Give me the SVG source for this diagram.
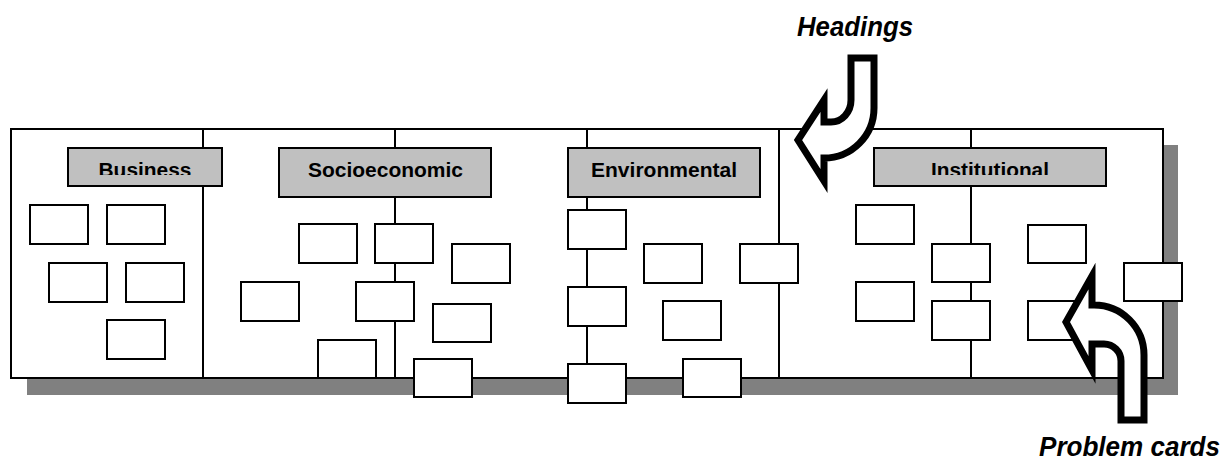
<svg xmlns="http://www.w3.org/2000/svg" width="1227" height="461" viewBox="0 0 1227 461">
<style>
.card{fill:#fff;stroke:#000;stroke-width:2}
.head{fill:#c0c0c0;stroke:#000;stroke-width:2}
.ht{font-family:"Liberation Sans",Arial,sans-serif;font-weight:bold;font-size:20px;fill:#000;text-anchor:middle}
.lbl{font-family:"Liberation Sans",Arial,sans-serif;font-weight:bold;font-style:italic;font-size:27px;fill:#000}
.div{stroke:#000;stroke-width:2}
.arrow{fill:#fff;stroke:#000;stroke-width:7;stroke-linejoin:miter;stroke-miterlimit:10}
</style>
<defs>
<clipPath id="clipBiz"><rect x="69" y="149" width="152" height="26"/></clipPath>
<clipPath id="clipInst"><rect x="875" y="148" width="230" height="27"/></clipPath>
</defs>
<rect x="0" y="0" width="1227" height="461" fill="#fff"/>
<g id="board">
<rect x="27" y="145" width="1151" height="250" fill="#808080"/>
<rect x="11" y="129" width="1152" height="249" fill="#fff" stroke="#000" stroke-width="2"/>
<line class="div" x1="203" y1="129" x2="203" y2="378"/>
<line class="div" x1="395" y1="129" x2="395" y2="378"/>
<line class="div" x1="587" y1="129" x2="587" y2="378"/>
<line class="div" x1="779" y1="129" x2="779" y2="378"/>
<line class="div" x1="971" y1="129" x2="971" y2="378"/>
</g>
<g id="head-business">
<rect class="head" x="68" y="148" width="154" height="38"/>
<text class="ht" x="145" y="177" textLength="93" lengthAdjust="spacingAndGlyphs" clip-path="url(#clipBiz)">Business</text>
</g>
<g id="head-socioeconomic">
<rect class="head" x="279" y="148" width="212" height="49"/>
<text class="ht" x="385.5" y="177" textLength="155" lengthAdjust="spacingAndGlyphs">Socioeconomic</text>
</g>
<g id="head-environmental">
<rect class="head" x="568" y="148" width="192" height="49"/>
<text class="ht" x="664" y="177" textLength="146" lengthAdjust="spacingAndGlyphs">Environmental</text>
</g>
<g id="head-institutional">
<rect class="head" x="874" y="148" width="232" height="38"/>
<text class="ht" x="990" y="177" textLength="118" lengthAdjust="spacingAndGlyphs" clip-path="url(#clipInst)">Institutional</text>
</g>
<g id="cards-business">
<rect class="card" x="30" y="205" width="58" height="39"/>
<rect class="card" x="107" y="205" width="58" height="39"/>
<rect class="card" x="49" y="263" width="58" height="39"/>
<rect class="card" x="126" y="263" width="58" height="39"/>
<rect class="card" x="107" y="320" width="58" height="39"/>
</g>
<g id="cards-socioeconomic">
<rect class="card" x="299" y="224" width="58" height="39"/>
<rect class="card" x="375" y="224" width="58" height="39"/>
<rect class="card" x="241" y="282" width="58" height="39"/>
<rect class="card" x="356" y="282" width="58" height="39"/>
<rect class="card" x="318" y="340" width="58" height="38"/>
<rect class="card" x="452" y="244" width="58" height="39"/>
<rect class="card" x="433" y="304" width="58" height="38"/>
<rect class="card" x="414" y="359" width="58" height="38"/>
</g>
<g id="cards-environmental">
<rect class="card" x="568" y="210" width="58" height="39"/>
<rect class="card" x="568" y="287" width="58" height="39"/>
<rect class="card" x="568" y="364" width="58" height="39"/>
<rect class="card" x="644" y="244" width="58" height="39"/>
<rect class="card" x="663" y="301" width="58" height="39"/>
<rect class="card" x="683" y="359" width="58" height="38"/>
<rect class="card" x="740" y="244" width="58" height="39"/>
</g>
<g id="cards-institutional">
<rect class="card" x="856" y="205" width="58" height="39"/>
<rect class="card" x="856" y="282" width="58" height="39"/>
<rect class="card" x="932" y="244" width="58" height="38"/>
<rect class="card" x="932" y="301" width="58" height="39"/>
<rect class="card" x="1028" y="225" width="58" height="38"/>
<rect class="card" x="1028" y="301" width="58" height="39"/>
<rect class="card" x="1124" y="263" width="58" height="38"/>
</g>
<g id="connectors">
<path class="arrow" d="M 851,58 H 874 V 108 A 50,50 0 0 1 824,158 V 181 L 798,140 L 824,100 V 122 H 831 A 20,22 0 0 0 851,100 Z"/>
<path class="arrow" d="M 1121,420 H 1144 V 355 A 50,50 0 0 0 1094,305 H 1092 V 276 L 1066,322 L 1092,370 V 344 H 1104 A 17,17 0 0 1 1121,361 Z"/>
</g>
<g id="labels">
<text class="lbl" x="797" y="36" textLength="116" lengthAdjust="spacingAndGlyphs">Headings</text>
<text class="lbl" x="1039" y="456" textLength="181" lengthAdjust="spacingAndGlyphs">Problem cards</text>
</g>
</svg>
